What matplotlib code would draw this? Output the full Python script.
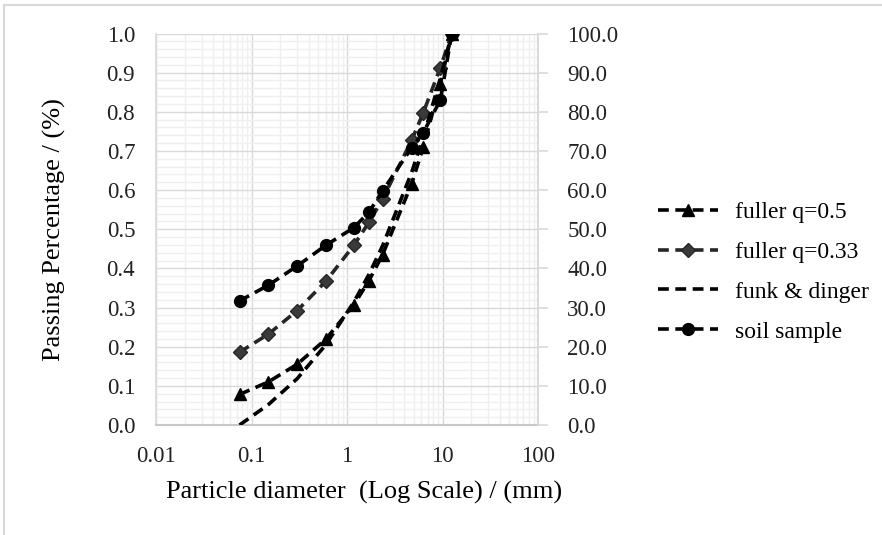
import matplotlib
matplotlib.use("Agg")
import matplotlib.pyplot as plt
from matplotlib.ticker import FixedLocator, NullFormatter
from matplotlib.patches import Rectangle

# ---- data ----
sieve_mm = [0.075, 0.15, 0.3, 0.6, 1.18, 1.7, 2.36, 4.75, 6.3, 9.5, 12.5]
fuller_05 = [0.078, 0.110, 0.155, 0.219, 0.307, 0.369, 0.435, 0.616, 0.710, 0.872, 1.0]
fuller_033 = [0.186, 0.232, 0.292, 0.367, 0.459, 0.518, 0.577, 0.727, 0.798, 0.913, 1.0]
funk_dinger = [0.0, 0.052, 0.118, 0.205, 0.314, 0.385, 0.458, 0.645, 0.736, 0.886, 1.0]
soil_sample = [0.317, 0.357, 0.406, 0.459, 0.504, 0.544, 0.598, 0.708, 0.747, 0.830, 1.0]

series_labels = ["fuller q=0.5", "fuller q=0.33", "funk & dinger", "soil sample"]
x_ticks = [0.01, 0.1, 1, 10, 100]
x_tick_labels = ["0.01", "0.1", "1", "10", "100"]
y_ticks = [0.0, 0.1, 0.2, 0.3, 0.4, 0.5, 0.6, 0.7, 0.8, 0.9, 1.0]
y2_ticks = [0, 10, 20, 30, 40, 50, 60, 70, 80, 90, 100]

plt.rcParams['font.family'] = ['Liberation Serif', 'DejaVu Serif']

W, H = 882, 535
fig = plt.figure(figsize=(W / 100, H / 100), dpi=100)

# outer light border (top & left visible)
fig.patches.append(Rectangle((3.5 / W, -0.05), 1.2, 1 - 4.5 / H + 0.05,
                             transform=fig.transFigure, fill=False,
                             edgecolor='#d9d9d9', linewidth=1.5))

L, R, T, B = 156, 538, 33.5, 425
ax = fig.add_axes([L / W, 1 - B / H, (R - L) / W, (B - T) / H])
ax.set_xscale('log')
ax.set_xlim(0.01, 100)
ax.set_ylim(0, 1)

# grid
minor_x = [m * 10.0 ** e for e in range(-2, 2) for m in range(2, 10)]
ax.xaxis.set_minor_locator(FixedLocator(minor_x))
ax.xaxis.set_minor_formatter(NullFormatter())
ax.set_xticks(x_ticks)
ax.set_xticklabels(x_tick_labels)
ax.set_yticks(y_ticks)
ax.set_yticklabels([f"{v:.1f}" for v in y_ticks])
ax.yaxis.set_minor_locator(FixedLocator([i * 0.02 for i in range(51)]))
ax.grid(which='minor', color='#efefef', linewidth=1.0, zorder=0)
ax.grid(which='major', color='#d9d9d9', linewidth=1.0, zorder=0)
ax.set_axisbelow(True)

ax.spines['top'].set_visible(False)
ax.spines['left'].set_color('#d9d9d9')
ax.spines['bottom'].set_color('#c8c8c8')
ax.spines['right'].set_color('#d9d9d9')
ax.spines['left'].set_linewidth(1.2)
ax.spines['bottom'].set_linewidth(1.5)
ax.spines['right'].set_linewidth(1.2)

ax.tick_params(which='both', length=0)
ax.tick_params(axis='x', labelsize=16.5, pad=15, colors='#222222')
ax.tick_params(axis='y', labelsize=16.5, pad=15, colors='#222222')

lw = 2.6
dash = (3.0, 1.8)
ax.plot(sieve_mm, fuller_05, color='black', linewidth=lw, dashes=dash,
        marker='^', markersize=8, label=series_labels[0], zorder=3)
ax.plot(sieve_mm, fuller_033, color='#262626', linewidth=lw, dashes=dash,
        marker='D', markersize=7, markerfacecolor='#3a3a3a',
        markeredgecolor='#262626', label=series_labels[1], zorder=3)
ax.plot(sieve_mm, funk_dinger, color='black', linewidth=lw, dashes=dash,
        label=series_labels[2], zorder=3)
ax.plot(sieve_mm, soil_sample, color='black', linewidth=lw, dashes=dash,
        marker='o', markersize=8.5, label=series_labels[3], zorder=4)

ax.set_xlabel("Particle diameter  (Log Scale) / (mm)", fontsize=19, va='center')
ax.xaxis.set_label_coords(0.545, -0.172)
ax.set_ylabel("Passing Percentage / (%)", fontsize=19, va='center')
ax.yaxis.set_label_coords(-0.265, 0.5)

# right axis
ax2 = ax.twinx()
ax2.set_ylim(0, 100)
ax2.set_yticks(y2_ticks)
ax2.set_yticklabels([f"{v:.1f}" for v in y2_ticks])
ax2.tick_params(axis='y', length=7, width=1.2, color='#d9d9d9', labelsize=16.5,
                pad=14, labelcolor='#222222')
for s in ['top', 'left', 'bottom']:
    ax2.spines[s].set_visible(False)
ax2.spines['right'].set_color('#d9d9d9')
ax2.spines['right'].set_linewidth(1.2)

handles, labels = ax.get_legend_handles_labels()
fig.legend(handles, labels, loc='center left',
           bbox_to_anchor=(658 / W, 1 - 272 / H), frameon=False,
           fontsize=17, handlelength=2.55, handletextpad=0.7,
           labelspacing=0.78, borderpad=0, borderaxespad=0)

fig.savefig("out.png", dpi=100)
